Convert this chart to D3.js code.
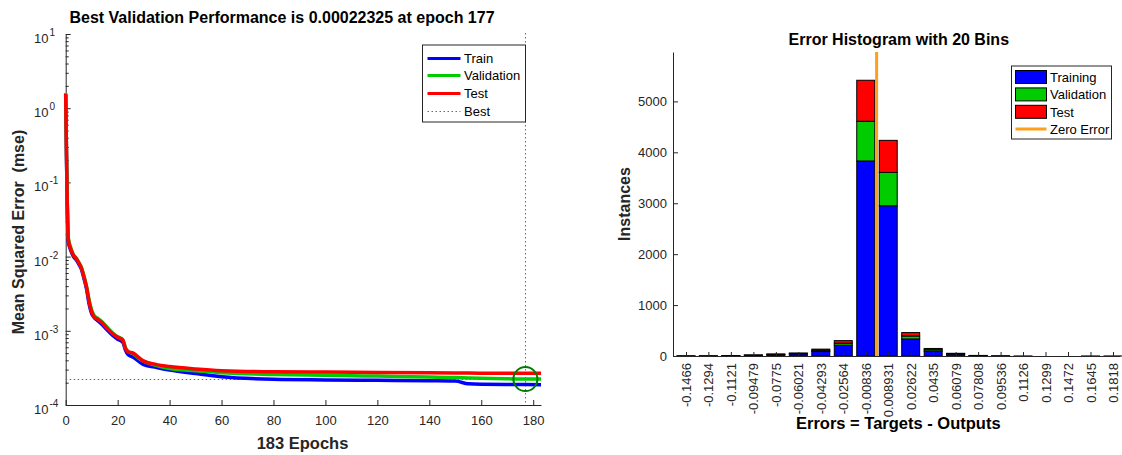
<!DOCTYPE html>
<html>
<head>
<meta charset="utf-8">
<script src="https://cdn.jsdelivr.net/npm/d3@7"></script>
<style>
  body { margin: 0; background: #fff; }
  svg { font-family: "Liberation Sans", Arial, sans-serif; }
  .axis path, .axis line { stroke: #262626; stroke-width: 1; }
  .axis text { fill: #262626; font-size: 13px; font-family: "Liberation Sans", Arial, sans-serif; }
</style>
</head>
<body>
<script>
// performance curves (mse per epoch)
var epochs = [0, 1, 2, 3, 4, 5, 6, 7, 8, 9, 10, 11, 12, 14, 16, 18, 20, 22, 23, 24, 26, 28, 30, 35, 40, 50, 60, 80, 100, 120, 140, 150, 155, 160, 170, 177, 183];
var trainPerf = [1.5, 0.016, 0.012, 0.0100, 0.0091, 0.0080, 0.0068, 0.0051, 0.0037, 0.0023, 0.0017, 0.0015, 0.0014, 0.00122, 0.00102, 0.00087, 0.00077, 0.00070, 0.00055, 0.00048, 0.00044, 0.00039, 0.00035, 0.00032, 0.000296, 0.000265, 0.00024, 0.000222, 0.000218, 0.000215, 0.000212, 0.00021, 0.000193, 0.00019, 0.000189, 0.000189, 0.000188];
var validPerf = [1.6, 0.018, 0.013, 0.0106, 0.0096, 0.0084, 0.0072, 0.0055, 0.0040, 0.0026, 0.0019, 0.0016, 0.0015, 0.00132, 0.00111, 0.00094, 0.00083, 0.00076, 0.00059, 0.00053, 0.00049, 0.00043, 0.00039, 0.00034, 0.00031, 0.00029, 0.000272, 0.000258, 0.000252, 0.000245, 0.000238, 0.000235, 0.000232, 0.00023, 0.000226, 0.00022325, 0.000224];
var testPerf = [1.55, 0.017, 0.0125, 0.0104, 0.0095, 0.0083, 0.0071, 0.0054, 0.0039, 0.0025, 0.0018, 0.00152, 0.00145, 0.00128, 0.00107, 0.00092, 0.00082, 0.00075, 0.00058, 0.00052, 0.0005, 0.00044, 0.00039, 0.00035, 0.00033, 0.000306, 0.00029, 0.00028, 0.000278, 0.000274, 0.000271, 0.00027, 0.000269, 0.000268, 0.000267, 0.000267, 0.000267];
var bestEpoch = 177;
var bestPerf = 0.00022325;
var totalEpochs = 183;
var epochTicks = [0, 20, 40, 60, 80, 100, 120, 140, 160, 180];
var decadeTicks = [-4, -3, -2, -1, 0, 1];

// error histogram
var binLabels = ['-0.1466', '-0.1294', '-0.1121', '-0.09479', '-0.0775', '-0.06021', '-0.04293', '-0.02564', '-0.00836', '0.008931', '0.02622', '0.0435', '0.06079', '0.07808', '0.09536', '0.1126', '0.1299', '0.1472', '0.1645', '0.1818'];
var trainCounts = [2, 3, 5, 14, 28, 42, 88, 212, 3830, 2950, 335, 95, 38, 8, 2, 1, 0, 0, 1, 1];
var validCounts = [1, 0, 1, 3, 6, 9, 25, 40, 780, 655, 58, 28, 8, 2, 1, 0, 0, 0, 0, 0];
var testCounts = [0, 1, 1, 3, 6, 8, 22, 50, 805, 630, 67, 25, 7, 1, 0, 0, 0, 0, 0, 0];
var countTicks = [0, 1000, 2000, 3000, 4000, 5000];

var w = 1122;
var h = 455;
var bestColor = '#00b400';

var svg = d3
  .select('body')
  .append('svg')
  .attr('width', w)
  .attr('height', h);

// ---------- left: performance plot ----------
var x = d3.scaleLinear().domain([0, totalEpochs]).range([65.7, 541]);
var y = d3.scaleLog().domain([1e-4, 10]).range([405, 34]);

var minorTicks = [];
decadeTicks.slice(0, -1).forEach(function(p) {
  for (var k = 2; k <= 9; k++) minorTicks.push(k * Math.pow(10, p));
});

svg
  .append('g')
  .attr('class', 'axis')
  .attr('transform', 'translate(65.7,0)')
  .call(d3.axisLeft(y).tickValues(minorTicks).tickSize(-3).tickSizeOuter(0).tickFormat(''))
  .select('.domain')
  .remove();

svg
  .append('g')
  .attr('class', 'axis')
  .attr('transform', 'translate(65.7,0)')
  .call(d3.axisLeft(y).tickValues(decadeTicks.map(p => Math.pow(10, p))).tickSize(-5).tickSizeOuter(0).tickFormat(''));

decadeTicks.forEach(function(p) {
  var t = svg
    .append('text')
    .attr('x', 34)
    .attr('y', y(Math.pow(10, p)) + 9)
    .attr('fill', '#262626')
    .style('font-size', '13px')
    .text('10');
  t.append('tspan')
    .attr('dy', -7)
    .attr('dx', 1)
    .style('font-size', '10px')
    .text(p < 0 ? '-' + Math.abs(p) : p);
});

svg
  .append('g')
  .attr('class', 'axis')
  .attr('transform', 'translate(0,405)')
  .call(d3.axisBottom(x).tickValues(epochTicks).tickSize(-5).tickSizeOuter(0).tickPadding(11));

// best markers
var bx = Math.round(x(bestEpoch)) + 0.5;
var by = Math.round(y(bestPerf)) + 0.5;

svg
  .append('line')
  .attr('x1', bx)
  .attr('x2', bx)
  .attr('y1', 33)
  .attr('y2', 405)
  .attr('stroke', bestColor)
  .attr('stroke-dasharray', '1.5,2.5');

svg
  .append('line')
  .attr('x1', x(0))
  .attr('x2', x(totalEpochs))
  .attr('y1', by)
  .attr('y2', by)
  .attr('stroke', bestColor)
  .attr('stroke-dasharray', '1.5,2.5');

var series = [
  { name: 'Train', values: trainPerf, color: '#0000ff' },
  { name: 'Validation', values: validPerf, color: '#00cc00' },
  { name: 'Test', values: testPerf, color: '#ff0000' }
];

var line = d3
  .line()
  .x((d, i) => x(epochs[i]))
  .y(d => y(d))
  .curve(d3.curveMonotoneX);

svg
  .append('g')
  .selectAll('path')
  .data(series)
  .enter()
  .append('path')
  .attr('d', d => line(d.values))
  .attr('fill', 'none')
  .attr('stroke', d => d.color)
  .attr('stroke-width', 3.5)
  .attr('stroke-linejoin', 'round');

svg
  .append('circle')
  .attr('cx', x(bestEpoch))
  .attr('cy', y(bestPerf))
  .attr('r', 12)
  .attr('fill', 'none')
  .attr('stroke', '#007a00')
  .attr('stroke-width', 2);

// legend
var legL = svg.append('g').attr('transform', 'translate(422.5,45)');
legL
  .append('rect')
  .attr('width', 103)
  .attr('height', 77)
  .attr('fill', '#fff')
  .attr('stroke', '#262626');
series.concat([{ name: 'Best', color: bestColor, dotted: true }]).forEach(function(s, i) {
  var cy = Math.round(12.5 + i * 17.9) + 0.5;
  legL
    .append('line')
    .attr('x1', 5)
    .attr('x2', 38)
    .attr('y1', cy)
    .attr('y2', cy)
    .attr('stroke', s.color)
    .attr('stroke-width', s.dotted ? 1 : 3)
    .attr('stroke-dasharray', s.dotted ? '1.5,2.5' : null);
  legL
    .append('text')
    .attr('x', 41.5)
    .attr('y', cy + 4.7)
    .style('font-size', '13px')
    .attr('fill', '#000')
    .text(s.name);
});

svg
  .append('text')
  .attr('x', 282)
  .attr('y', 23)
  .attr('text-anchor', 'middle')
  .style('font-size', '16px')
  .style('font-weight', 'bold')
  .text('Best Validation Performance is 0.00022325 at epoch 177');

svg
  .append('text')
  .attr('x', 302.5)
  .attr('y', 449)
  .attr('text-anchor', 'middle')
  .style('font-size', '16.5px')
  .style('font-weight', 'bold')
  .attr('fill', '#262626')
  .text(totalEpochs + ' Epochs');

svg
  .append('text')
  .attr('transform', 'translate(24,232) rotate(-90)')
  .attr('text-anchor', 'middle')
  .style('font-size', '16px')
  .style('font-weight', 'bold')
  .attr('fill', '#262626')
  .attr('xml:space', 'preserve')
  .text('Mean Squared Error  (mse)');

// ---------- right: error histogram ----------
var binCenters = binLabels.map(Number);
var binStep = (binCenters[binCenters.length - 1] - binCenters[0]) / (binCenters.length - 1);

var xh = d3.scaleLinear().domain([-0.1566, 0.1872]).range([673, 1120]);
var yh = d3.scaleLinear().domain([0, 5970]).range([356, 52]);

var rows = binLabels.map(function(l, i) {
  return { c: binCenters[i], Training: trainCounts[i], Validation: validCounts[i], Test: testCounts[i] };
});
var keys = ['Training', 'Validation', 'Test'];
var colors = { Training: '#0000ff', Validation: '#00cc00', Test: '#ff0000' };
var stacked = d3.stack().keys(keys)(rows);

var barW = xh(binStep * 0.8) - xh(0);

svg
  .append('g')
  .selectAll('g')
  .data(stacked)
  .enter()
  .append('g')
  .attr('fill', d => colors[d.key])
  .selectAll('rect')
  .data(d => d)
  .enter()
  .append('rect')
  .attr('x', d => xh(d.data.c) - barW / 2)
  .attr('width', barW)
  .attr('y', d => yh(d[1]))
  .attr('height', d => yh(d[0]) - yh(d[1]))
  .attr('stroke', '#000')
  .attr('stroke-width', 1);

svg
  .append('g')
  .attr('class', 'axis')
  .attr('transform', 'translate(673,0)')
  .call(
    d3.axisLeft(yh)
      .tickValues(countTicks)
      .tickSize(-5)
      .tickSizeOuter(0)
      .tickPadding(6)
      .tickFormat(d3.format('d'))
  );

var xAxisR = svg
  .append('g')
  .attr('class', 'axis')
  .attr('transform', 'translate(0,356)')
  .call(
    d3.axisBottom(xh)
      .tickValues(binCenters)
      .tickSize(-4)
      .tickSizeOuter(0)
      .tickFormat((d, i) => binLabels[i])
  );
xAxisR
  .selectAll('text')
  .attr('transform', 'rotate(-90)')
  .attr('text-anchor', 'end')
  .attr('x', -7)
  .attr('y', 0)
  .attr('dy', '.35em');

svg
  .append('line')
  .attr('x1', xh(0))
  .attr('x2', xh(0))
  .attr('y1', 52)
  .attr('y2', 356)
  .attr('stroke', '#ff9f1c')
  .attr('stroke-width', 3);

// legend
var legR = svg.append('g').attr('transform', 'translate(1011.5,66)');
legR
  .append('rect')
  .attr('width', 100)
  .attr('height', 73)
  .attr('fill', '#fff')
  .attr('stroke', '#262626');
keys.forEach(function(k, i) {
  var cy = 11 + i * 17.4;
  legR
    .append('rect')
    .attr('x', 4)
    .attr('y', cy - 6.5)
    .attr('width', 31)
    .attr('height', 13)
    .attr('fill', colors[k])
    .attr('stroke', '#000');
  legR
    .append('text')
    .attr('x', 38.5)
    .attr('y', cy + 4.7)
    .style('font-size', '13px')
    .text(k);
});
legR
  .append('line')
  .attr('x1', 4)
  .attr('x2', 35)
  .attr('y1', 63)
  .attr('y2', 63)
  .attr('stroke', '#ff9f1c')
  .attr('stroke-width', 3);
legR
  .append('text')
  .attr('x', 38.5)
  .attr('y', 67.7)
  .style('font-size', '13px')
  .text('Zero Error');

svg
  .append('text')
  .attr('x', 898.8)
  .attr('y', 45)
  .attr('text-anchor', 'middle')
  .style('font-size', '16px')
  .style('font-weight', 'bold')
  .text('Error Histogram with 20 Bins');

svg
  .append('text')
  .attr('x', 898.3)
  .attr('y', 428.5)
  .attr('text-anchor', 'middle')
  .style('font-size', '16.5px')
  .style('font-weight', 'bold')
  .text('Errors = Targets - Outputs');

svg
  .append('text')
  .attr('transform', 'translate(630,204) rotate(-90)')
  .attr('text-anchor', 'middle')
  .style('font-size', '16px')
  .style('font-weight', 'bold')
  .attr('fill', '#262626')
  .text('Instances');
</script>
</body>
</html>
